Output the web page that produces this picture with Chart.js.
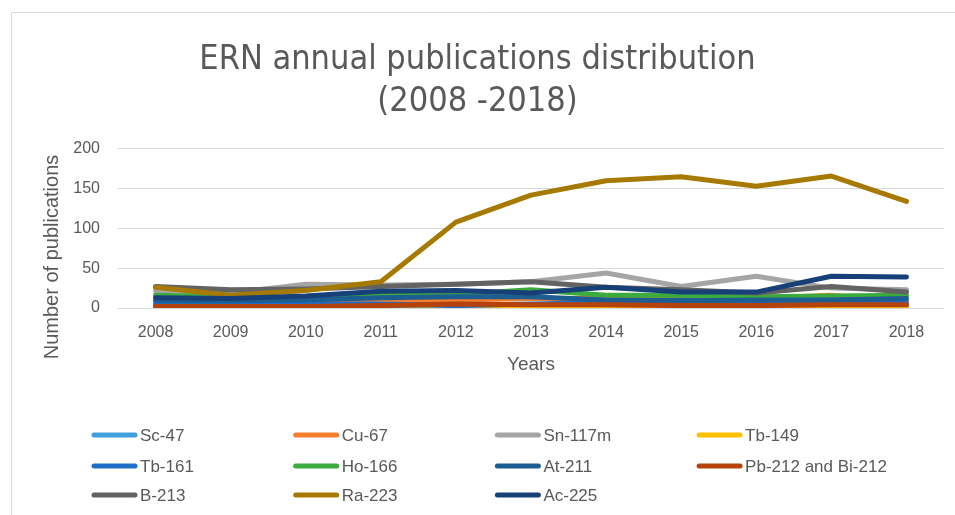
<!DOCTYPE html>
<html>
<head>
<meta charset="utf-8">
<script src="https://cdn.jsdelivr.net/npm/chart.js@4.4.1/dist/chart.umd.min.js"></script>
<style>
  html, body { margin: 0; padding: 0; background: #ffffff; }
  #wrap { width: 955px; height: 515px; position: relative; }
</style>
</head>
<body>
<div id="wrap"><canvas id="c" width="955" height="515"></canvas></div>
<script>
const years = ['2008','2009','2010','2011','2012','2013','2014','2015','2016','2017','2018'];
const seriesNames = ['Sc-47','Cu-67','Sn-117m','Tb-149','Tb-161','Ho-166','At-211','Pb-212 and Bi-212','B-213','Ra-223','Ac-225'];
const sc47   = [1, 1, 1, 2, 1, 1, 2, 3, 1, 1, 2];
const cu67   = [3, 3, 5, 8, 10, 12, 12, 14, 12, 16, 8];
const sn117m = [22, 19, 30, 29, 30, 33, 44, 27, 40, 25, 23];
const tb149  = [1, 0, 0, 5, 2, 1, 2, 1, 0, 1, 0];
const tb161  = [5, 5, 5, 5, 3, 5, 7, 10, 7, 6, 7];
const ho166  = [16, 14, 12, 16, 17, 23, 16, 16, 14, 15, 16];
const at211  = [9, 9, 10, 13, 14, 14, 10, 9, 10, 10, 12];
const pb212  = [2, 2, 2, 3, 5, 4, 4, 3, 3, 4, 4];
const b213   = [27, 23, 24, 27, 30, 33, 26, 23, 19, 27, 20];
const ra223  = [26, 16, 22, 33, 108, 142, 160, 165, 153, 166, 134];
const ac225  = [13, 12, 15, 21, 22, 19, 26, 20, 20, 40, 39];
const yTicks = [0, 50, 100, 150, 200];
const titleLines = ['ERN annual publications distribution', '(2008 -2018)'];
const yTitle = 'Number of publications';

const seriesValues = [sc47, cu67, sn117m, tb149, tb161, ho166, at211, pb212, b213, ra223, ac225];
const colors = ['#3FA0DC','#F47E2C','#A5A5A5','#FFC000','#1F6FC8','#3DAA3D','#1C5E92','#B5420A','#636363','#A67A00','#173F78'];

const TXT = '#595959';
const FONT = "'Liberation Sans', Arial, sans-serif";

const datasets = seriesNames.map((name, i) => ({
  label: name,
  data: seriesValues[i],
  borderColor: colors[i],
  backgroundColor: colors[i],
  borderWidth: 5,
  pointRadius: 0,
  pointHoverRadius: 0,
  tension: 0,
  fill: false,
  borderCapStyle: 'round',
  borderJoinStyle: 'round',
  order: seriesNames.length - i
}));

const frame = {
  id: 'frame',
  beforeDraw(chart) {
    const ctx = chart.ctx;
    ctx.save();
    ctx.fillStyle = '#ffffff';
    ctx.fillRect(0, 0, chart.width, chart.height);
    ctx.strokeStyle = '#D9D9D9';
    ctx.lineWidth = 1;
    ctx.beginPath();
    ctx.moveTo(11.5, chart.height);
    ctx.lineTo(11.5, 12.5);
    ctx.lineTo(chart.width, 12.5);
    ctx.stroke();
    // y axis title (centred on plot + category labels, as in the original)
    ctx.translate(52, 257);
    ctx.rotate(-Math.PI / 2);
    ctx.font = "20px " + FONT;
    ctx.fillStyle = TXT;
    ctx.textAlign = 'center';
    ctx.textBaseline = 'middle';
    ctx.fillText(yTitle, 0, 0);
    ctx.restore();
  }
};

const gridLegend = {
  id: 'gridLegend',
  afterDraw(chart) {
    const ctx = chart.ctx;
    const cols = 4, x0 = 92, colW = 201.7, rowY = [435, 466, 495], lineLen = 45;
    ctx.save();
    ctx.font = "17px " + FONT;
    ctx.textBaseline = 'middle';
    ctx.textAlign = 'left';
    chart.data.datasets.forEach((ds, i) => {
      const c = i % cols, r = Math.floor(i / cols);
      const x = x0 + c * colW, y = rowY[r];
      ctx.strokeStyle = ds.borderColor;
      ctx.lineWidth = 5;
      ctx.lineCap = 'round';
      ctx.beginPath();
      ctx.moveTo(x + 2, y);
      ctx.lineTo(x + lineLen - 2, y);
      ctx.stroke();
      ctx.fillStyle = TXT;
      ctx.fillText(ds.label, x + lineLen + 3, y + 1);
    });
    ctx.restore();
  }
};

new Chart(document.getElementById('c'), {
  type: 'line',
  data: { labels: years, datasets },
  plugins: [frame, gridLegend],
  options: {
    responsive: false,
    animation: false,
    layout: { padding: { top: 12, left: 11, right: 11, bottom: 0 } },
    plugins: {
      legend: { display: false },
      tooltip: { enabled: false },
      title: {
        display: true,
        text: titleLines,
        color: TXT,
        font: { family: "'DejaVu Sans Condensed', 'Liberation Sans', sans-serif", size: 34, weight: 'normal', lineHeight: 1.235 },
        padding: { top: 27, bottom: 26 }
      }
    },
    scales: {
      x: {
        type: 'category',
        offset: true,
        grid: { display: false, drawTicks: false },
        border: { display: false },
        ticks: { color: TXT, font: { family: FONT, size: 16 }, padding: 15, maxRotation: 0, autoSkip: false },
        title: { display: true, text: 'Years', color: TXT, font: { family: FONT, size: 19 }, padding: { top: 0, bottom: 139 } },
        afterFit(scale) { scale.height = 515 - 308; }
      },
      y: {
        min: 0, max: 200,
        afterBuildTicks(scale) { scale.ticks = yTicks.map(v => ({ value: v })); },
        grid: { color: '#D9D9D9', lineWidth: 1, drawTicks: false },
        border: { display: false },
        ticks: { color: TXT, font: { family: FONT, size: 16 }, padding: 18 },
        title: { display: false },
        afterFit(scale) { scale.width = 118 - 11; }
      }
    }
  }
});
</script>
</body>
</html>
